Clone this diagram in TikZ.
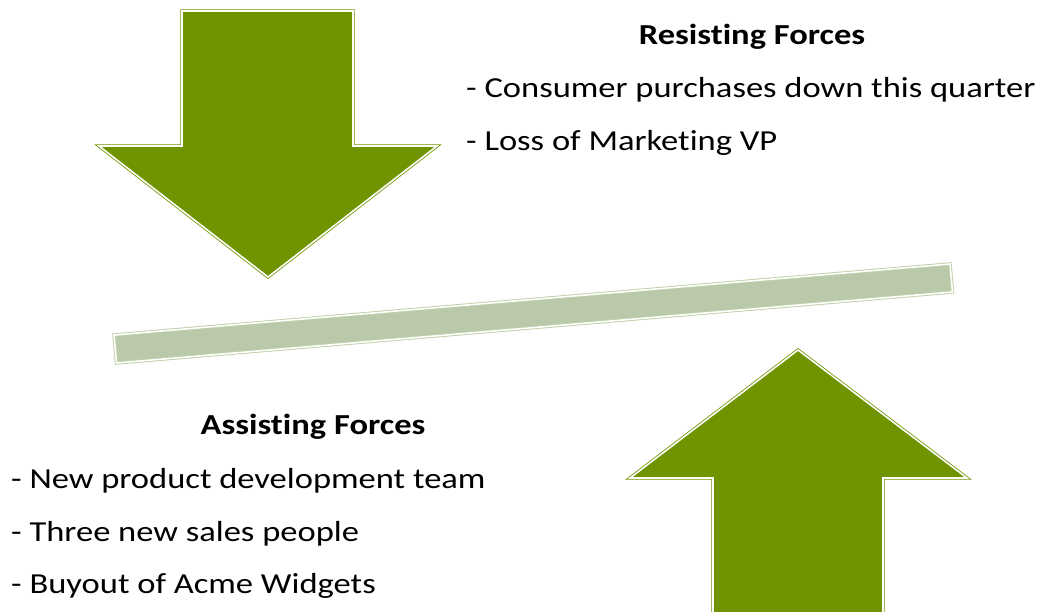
\documentclass[tikz,border=0pt]{standalone}
\usepackage{fontspec}
\setmainfont{Carlito}[Ligatures=NoCommon]
\definecolor{arrowgreen}{RGB}{111,148,0}
\definecolor{barfill}{RGB}{186,201,169}
\definecolor{baredge}{RGB}{190,208,168}
\newcommand{\wide}[1]{\scalebox{1.19}[1]{#1}}
\begin{document}
\begin{tikzpicture}[x=1pt,y=-1pt,
  forcearrow/.style={fill=arrowgreen,draw=arrowgreen,line width=0.8pt,double=white,double distance=1.6pt,line join=miter},
  balancebar/.style={fill=barfill,draw=baredge,line width=0.9pt,double=white,double distance=1.6pt},
  headtxt/.style={font=\fontsize{29}{32}\selectfont\bfseries,inner sep=0pt},
  itemtxt/.style={font=\fontsize{29}{34}\selectfont,anchor=west,inner sep=0pt}]
\useasboundingbox (0,0) rectangle (1041,612);
% top arrow (resisting)
\path[forcearrow] (182,11) -- (353,11) -- (353,146) -- (437,146) -- (268,277) -- (99,146) -- (182,146) -- cycle;
% bottom arrow (assisting)
\path[forcearrow] (713,640) -- (713,478) -- (630,478) -- (798,350) -- (967,478) -- (883,478) -- (883,640) -- cycle;
% balance bar
\path[balancebar] (114,335) -- (950,264) -- (952.5,292) -- (116.5,363) -- cycle;
% texts
\node[headtxt] (rh) at (752,37) {\wide{Resisting Forces}};
\node[itemtxt] (r1) at (466,90) {\wide{- Consumer purchases down this quarter}};
\node[itemtxt] (r2) at (466,143) {\wide{- Loss of Marketing VP}};
\node[headtxt] (ah) at (313,427) {\wide{Assisting Forces}};
\node[itemtxt] (a1) at (11,481) {\wide{- New product development team}};
\node[itemtxt] (a2) at (11,534) {\wide{- Three new sales people}};
\node[itemtxt] (a3) at (11,586) {\wide{- Buyout of Acme Widgets}};
\end{tikzpicture}
\end{document}
